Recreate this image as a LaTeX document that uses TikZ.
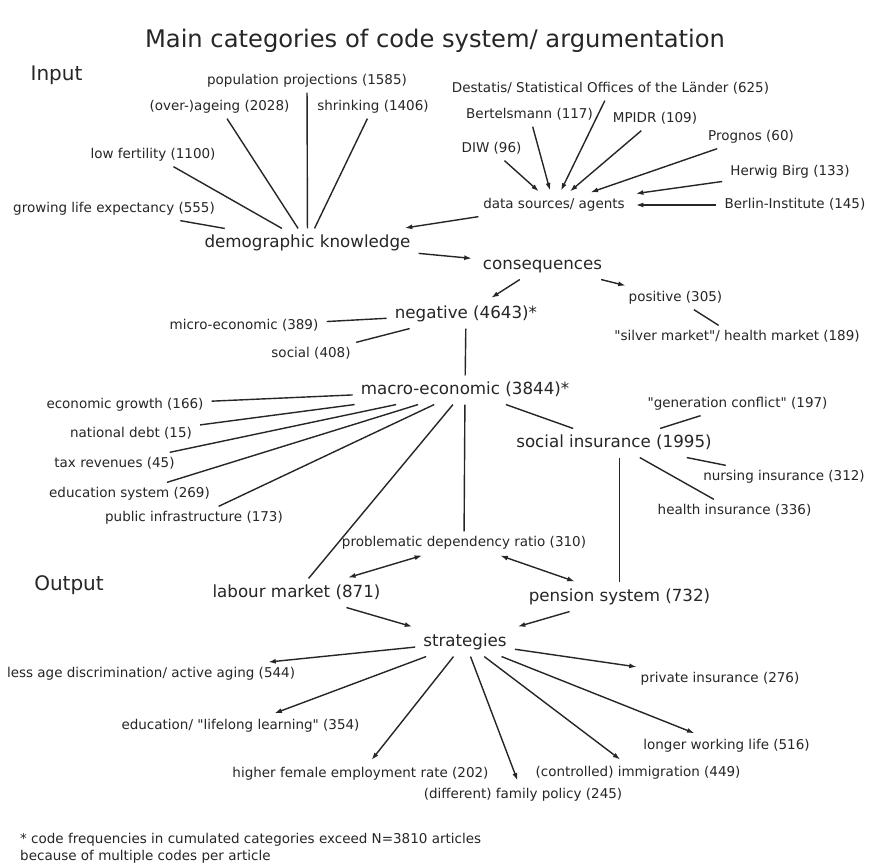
\documentclass[tikz,border=0pt]{standalone}
\usepackage{fontspec}
\setmainfont{DejaVu Sans}
\usetikzlibrary{arrows.meta}
\begin{document}
\begin{tikzpicture}[x=1pt,y=-1pt,
  sm/.style={font=\fontsize{13.5}{16}\selectfont, text=black!85, text height=10.3pt, text depth=3.2pt, inner xsep=8pt, inner ysep=4.7pt},
  bg/.style={font=\fontsize{16.7}{20}\selectfont, text=black!85, text height=12.7pt, text depth=4pt, inner xsep=8pt, inner ysep=6pt},
  hd/.style={font=\fontsize{20}{24}\selectfont, text=black!85, inner sep=0pt},
  ln/.style={line width=1.4pt, draw=black!85},
  arr/.style={ln, -{Latex[length=7.5pt,width=5pt]}, shorten >=3pt},
  darr/.style={ln, {Latex[length=7.5pt,width=5pt]}-{Latex[length=7.5pt,width=5pt]}, shorten >=3pt, shorten <=3pt}]
\useasboundingbox (0,0) rectangle (870,867);
\fill[white] (0,0) rectangle (870,867);

\node[font=\fontsize{24.2}{28}\selectfont, text=black!85, inner sep=0pt] (title) at (435,41) {Main categories of code system/ argumentation};
\node[hd] (input) at (56.5,75) {Input};
\node[hd] (output) at (69,585) {Output};

% input
\node[sm] (pop) at (307,81) {population projections (1585)};
\node[sm] (ageing) at (219.5,107) {(over-)ageing (2028)};
\node[sm] (shrink) at (373,107) {shrinking (1406)};
\node[sm] (lowfert) at (153,155) {low fertility (1100)};
\node[sm] (growing) at (114,209) {growing life expectancy (555)};
\node[bg] (demo) at (307.5,243) {demographic knowledge};

\node[sm] (destatis) at (610.5,89) {Destatis/ Statistical Offices of the Länder (625)};
\node[sm] (bertels) at (529.5,115) {Bertelsmann (117)};
\node[sm] (mpidr) at (655,119) {MPIDR (109)};
\node[sm] (prognos) at (751,137) {Prognos (60)};
\node[sm] (diw) at (491.5,149) {DIW (96)};
\node[sm] (herwig) at (790,172) {Herwig Birg (133)};
\node[sm] (data) at (554,205) {data sources/ agents};
\node[sm] (berlin) at (795,205) {Berlin-Institute (145)};

% consequences
\node[bg] (conseq) at (542.5,265) {consequences};
\node[bg] (neg) at (466,314) {negative (4643)*};
\node[sm] (pos) at (675.5,298) {positive (305)};
\node[sm] (silver) at (737,337) {\textquotedbl silver market\textquotedbl/ health market (189)};
\node[sm] (micro) at (244,326) {micro-economic (389)};
\node[sm] (social) at (311,354) {social (408)};
\node[bg] (macro) at (465,390) {macro-economic (3844)*};
\node[sm] (gen) at (737.5,404) {\textquotedbl generation conflict\textquotedbl{} (197)};
\node[bg] (socins) at (614,443) {social insurance (1995)};
\node[sm] (nursing) at (784,477) {nursing insurance (312)};
\node[sm] (health) at (734.5,511) {health insurance (336)};
\node[sm] (econ) at (125,405) {economic growth (166)};
\node[sm] (debt) at (131,434) {national debt (15)};
\node[sm] (tax) at (114.5,464) {tax revenues (45)};
\node[sm] (edusys) at (129.5,494) {education system (269)};
\node[sm] (pubinf) at (194,518) {public infrastructure (173)};
\node[sm] (prob) at (464,543) {problematic dependency ratio (310)};
\node[bg] (labour) at (296.5,593) {labour market (871)};
\node[bg] (pension) at (619.5,597) {pension system (732)};

% output
\node[bg] (strat) at (465,642) {strategies};
\node[sm] (lessage) at (151,674) {less age discrimination/ active aging (544)};
\node[sm] (edu) at (240.5,726) {education/ \textquotedbl lifelong learning\textquotedbl{} (354)};
\node[sm] (female) at (360.5,774) {higher female employment rate (202)};
\node[sm] (family) at (523,795) {(different) family policy (245)};
\node[sm] (immig) at (638,773) {(controlled) immigration (449)};
\node[sm] (longer) at (726.5,746) {longer working life (516)};
\node[sm] (private) at (720,679) {private insurance (276)};

\node[sm, anchor=west, inner xsep=0pt] (foot1) at (20,840) {* code frequencies in cumulated categories exceed N=3810 articles};
\node[sm, anchor=west, inner xsep=0pt] (foot2) at (20,857) {because of multiple codes per article};

% connectors: input
\draw[ln] (pop) -- (demo);
\draw[ln] (ageing) -- (demo);
\draw[ln] (shrink) -- (demo);
\draw[ln] (lowfert) -- (demo);
\draw[ln] (growing) -- (demo);
\foreach \s in {diw,bertels,destatis,mpidr,prognos,herwig,berlin}
  \draw[arr] (\s) -- (data);
\draw[arr] (data) -- (demo);
\draw[arr] (demo) -- (conseq);

% consequences
\draw[arr] (conseq) -- (neg);
\draw[arr] (conseq) -- (pos);
\draw[ln] (pos) -- (silver);
\draw[ln] (micro) -- (neg);
\draw[ln] (social) -- (neg);
\draw[ln] (neg) -- (macro);
\draw[ln] (macro) -- (socins);
\draw[ln] (socins) -- (gen);
\draw[ln] (socins) -- (nursing);
\draw[ln] (socins) -- (health);
\foreach \s in {econ,debt,tax,edusys,pubinf}
  \draw[ln] (\s) -- (macro);
\draw[ln] (labour) -- (macro);
\draw[ln] (macro) -- (prob);
\draw[ln] (pension.north |- socins.south) -- (pension.north);
\draw[darr] (prob) -- (labour);
\draw[darr] (prob) -- (pension);
\draw[arr] (labour) -- (strat);
\draw[arr] (pension) -- (strat);

% strategies
\foreach \t in {lessage,edu,female,family,immig,longer,private}
  \draw[arr] (strat) -- (\t);
\end{tikzpicture}
\end{document}
